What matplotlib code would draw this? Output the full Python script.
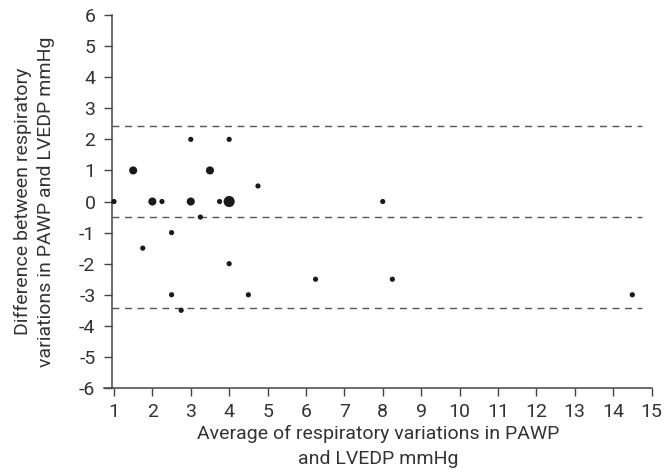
import matplotlib
matplotlib.use('Agg')
import matplotlib.pyplot as plt

# Bland-Altman style data: average vs difference, marker size = number of patients
avg = [1.0, 1.5, 2.0, 2.25, 3.0, 3.0, 3.25, 3.5, 3.75, 4.0, 4.0, 4.75, 8.0,
       1.75, 2.5, 2.5, 2.75, 4.0, 4.5, 6.25, 8.25, 14.5]
diff = [0.0, 1.0, 0.0, 0.0, 2.0, 0.0, -0.5, 1.0, 0.0, 0.0, 2.0, 0.5, 0.0,
        -1.5, -1.0, -3.0, -3.5, -2.0, -3.0, -2.5, -2.5, -3.0]
count = [1, 2, 2, 1, 1, 2, 1, 2, 1, 3, 1, 1, 1,
         1, 1, 1, 1, 1, 1, 1, 1, 1]
mean_diff = -0.5
upper_loa = 2.44
lower_loa = -3.44

plt.rcParams['font.family'] = ['Roboto', 'DejaVu Sans']
plt.rcParams['axes.unicode_minus'] = False
fig = plt.figure(figsize=(6.64, 4.74), dpi=100)
ax = fig.add_axes([0.1572, 0.1814, 0.8240, 0.7869])

size_map = {1: 14, 2: 34, 3: 64}
ax.scatter(avg, diff, s=[size_map[c] for c in count], color='#1a1a1a',
           linewidths=0, zorder=3, clip_on=False)

for yv in (upper_loa, mean_diff, lower_loa):
    ax.plot([0.95, 14.75], [yv, yv], color='#555555', lw=1.0, dashes=(5, 4), zorder=2)

ax.set_xlim(0.75, 15)
ax.set_ylim(-6, 6)
ax.set_xticks(range(1, 16))
ax.set_yticks(range(-6, 7))
ax.spines['top'].set_visible(False)
ax.spines['right'].set_visible(False)
ax.spines['left'].set_position(('data', 0.95))
for s in ('left', 'bottom'):
    ax.spines[s].set_color('#444444')
    ax.spines[s].set_linewidth(1.1)
ax.tick_params(direction='out', length=6, width=1, color='#444444',
               labelcolor='#333333', labelsize=14)
ax.tick_params(axis='x', pad=5)
ax.tick_params(axis='y', pad=6)

ax.set_xlabel('Average of respiratory variations in PAWP\nand LVEDP mmHg',
              fontsize=14, color='#333333', linespacing=1.5)
ax.xaxis.set_label_coords(0.5, -0.1)
ax.set_ylabel('Difference between respiratory\nvariations in PAWP and LVEDP mmHg',
              fontsize=14, color='#333333', linespacing=1.3)
ax.yaxis.set_label_coords(-0.091, 0.5)

fig.savefig('out.png', dpi=100)
plt.close(fig)
